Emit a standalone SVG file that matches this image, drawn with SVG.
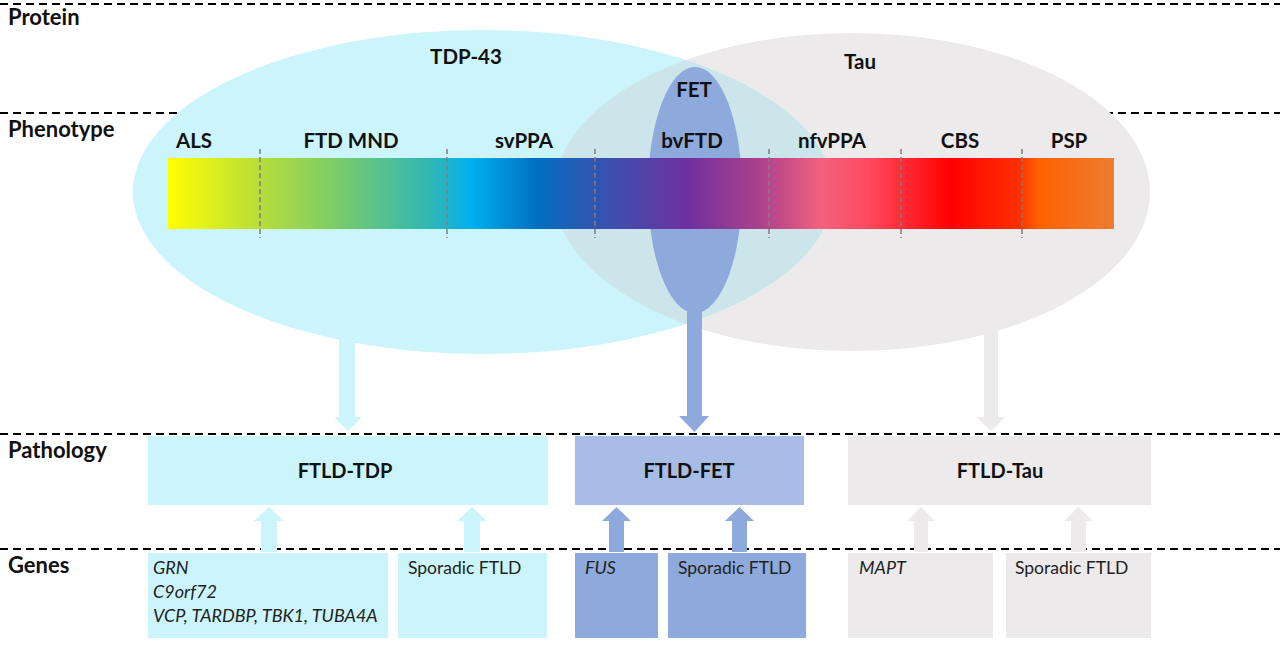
<svg xmlns="http://www.w3.org/2000/svg" width="1280" height="648" viewBox="0 0 1280 648">
<defs>
<style>
.row{font-family:Lato,"Liberation Sans",sans-serif;font-weight:bold;font-size:22px;fill:#111}
.ph{font-family:Lato,"Liberation Sans",sans-serif;font-weight:bold;font-size:20.5px;fill:#111;text-anchor:middle}
.pt{font-family:Lato,"Liberation Sans",sans-serif;font-weight:bold;font-size:20px;fill:#111;text-anchor:middle}
.gi{font-family:Lato,"Liberation Sans",sans-serif;font-style:italic;font-size:18px;fill:#222}
.gr{font-family:Lato,"Liberation Sans",sans-serif;font-size:17.5px;fill:#222}
.sep{stroke:#000;stroke-width:2;stroke-dasharray:8 5;fill:none}
.div{stroke:#7F7F7F;stroke-width:1.5;stroke-dasharray:5 3;fill:none}
.cy{fill:#CCF5FB}
.gy{fill:#ECEAEB}
.bl{fill:#8EA9DB}
</style>
<linearGradient id="spec" x1="0" y1="0" x2="1" y2="0">
<stop offset="0" stop-color="#FFFF00"/>
<stop offset="0.1" stop-color="#B5DC3C"/>
<stop offset="0.18" stop-color="#7ACB6A"/>
<stop offset="0.29" stop-color="#25B4C0"/>
<stop offset="0.32" stop-color="#00B0F0"/>
<stop offset="0.39" stop-color="#0070C0"/>
<stop offset="0.44" stop-color="#2A5AB4"/>
<stop offset="0.55" stop-color="#7030A0"/>
<stop offset="0.63" stop-color="#B0428A"/>
<stop offset="0.69" stop-color="#F2607E"/>
<stop offset="0.74" stop-color="#FF4A60"/>
<stop offset="0.827" stop-color="#FF0000"/>
<stop offset="0.9" stop-color="#FF3000"/>
<stop offset="0.92" stop-color="#FF6000"/>
<stop offset="1" stop-color="#ED7D31"/>
</linearGradient>
<clipPath id="tauClip"><ellipse cx="852" cy="192" rx="298" ry="159"/></clipPath>
</defs>

<g id="separators">
<line class="sep" x1="0" y1="4" x2="1280" y2="4"/>
<line class="sep" x1="0" y1="113" x2="1280" y2="113"/>
<line class="sep" x1="0" y1="434" x2="1280" y2="434"/>
<line class="sep" x1="0" y1="549" x2="1280" y2="549"/>
</g>

<g id="row-labels">
<text class="row" x="8" y="25">Protein</text>
<text class="row" x="8" y="137">Phenotype</text>
<text class="row" x="8" y="458">Pathology</text>
<text class="row" x="8" y="573">Genes</text>
</g>

<g id="connectors">
<polygon class="cy" points="339,330 355,330 355,417 362,417 348,431 334,417 339,417"/>
<polygon class="gy" points="984,330 998,330 998,417 1005,417 991,431 976,417 984,417"/>
<polygon class="cy" points="261,552 277,552 277,521 284,521 269,507 254,521 261,521"/>
<polygon class="cy" points="464,552 480,552 480,521 487,521 472,507 457,521 464,521"/>
<polygon class="bl" points="609,552 624,552 624,521 631,521 616.5,507 602,521 609,521"/>
<polygon class="bl" points="732,552 747,552 747,521 754,521 739.5,507 725,521 732,521"/>
<polygon class="gy" points="914,552 928,552 928,521 935,521 921,507 907,521 914,521"/>
<polygon class="gy" points="1071,552 1086,552 1086,521 1093,521 1078.5,507 1064,521 1071,521"/>
</g>

<g id="protein-tau">
<ellipse class="gy" cx="852" cy="192" rx="298" ry="159"/>
</g>
<g id="protein-tdp43">
<ellipse class="cy" cx="483" cy="192" rx="350" ry="162"/>
<ellipse cx="483" cy="192" rx="350" ry="162" fill="#CCE5EA" clip-path="url(#tauClip)"/>
<text class="ph" x="466" y="64">TDP-43</text>
</g>
<g id="tau-label"><text class="ph" x="860" y="69">Tau</text></g>
<g id="protein-fet">
<ellipse class="bl" cx="695" cy="190" rx="47" ry="123"/>
<polygon class="bl" points="687,290 702,290 702,416 709,416 694.5,432 679,416 687,416"/>
<text class="ph" x="694" y="97">FET</text>
</g>

<g id="phenotype-bar">
<rect x="168" y="158" width="946" height="71" fill="url(#spec)"/>
<line class="div" x1="260" y1="149" x2="260" y2="238"/>
<line class="div" x1="447" y1="149" x2="447" y2="238"/>
<line class="div" x1="595" y1="149" x2="595" y2="238"/>
<line class="div" x1="769" y1="149" x2="769" y2="238"/>
<line class="div" x1="901" y1="149" x2="901" y2="238"/>
<line class="div" x1="1022" y1="149" x2="1022" y2="238"/>
<text class="ph" x="194" y="148">ALS</text>
<text class="ph" x="351" y="148">FTD MND</text>
<text class="ph" x="524" y="148">svPPA</text>
<text class="ph" x="692" y="148">bvFTD</text>
<text class="ph" x="832" y="148">nfvPPA</text>
<text class="ph" x="960" y="148">CBS</text>
<text class="ph" x="1069" y="148">PSP</text>
</g>

<g id="ftld-tdp">
<rect class="cy" x="148" y="436" width="400" height="69"/>
<text class="pt" x="345" y="478">FTLD-TDP</text>
</g>
<g id="ftld-fet">
<rect x="575" y="436" width="229" height="69" fill="#A8BDE5"/>
<text class="pt" x="689" y="478">FTLD-FET</text>
</g>
<g id="ftld-tau">
<rect class="gy" x="848" y="436" width="303" height="69"/>
<text class="pt" x="1000" y="478">FTLD-Tau</text>
</g>

<g id="genes-tdp">
<rect class="cy" x="148" y="553" width="240" height="85"/>
<text class="gi" x="153" y="574">GRN</text>
<text class="gi" x="153" y="598">C9orf72</text>
<text class="gi" x="153" y="622">VCP, TARDBP, TBK1, TUBA4A</text>
</g>
<g id="sporadic-tdp">
<rect class="cy" x="398" y="553" width="149" height="85"/>
<text class="gr" x="408" y="574">Sporadic FTLD</text>
</g>
<g id="genes-fus">
<rect class="bl" x="575" y="553" width="83" height="85"/>
<text class="gi" x="585" y="574">FUS</text>
</g>
<g id="sporadic-fet">
<rect class="bl" x="668" y="553" width="138" height="85"/>
<text class="gr" x="678" y="574">Sporadic FTLD</text>
</g>
<g id="genes-mapt">
<rect class="gy" x="848" y="553" width="145" height="85"/>
<text class="gi" x="859" y="574">MAPT</text>
</g>
<g id="sporadic-tau">
<rect class="gy" x="1006" y="553" width="145" height="85"/>
<text class="gr" x="1015" y="574">Sporadic FTLD</text>
</g>
</svg>
